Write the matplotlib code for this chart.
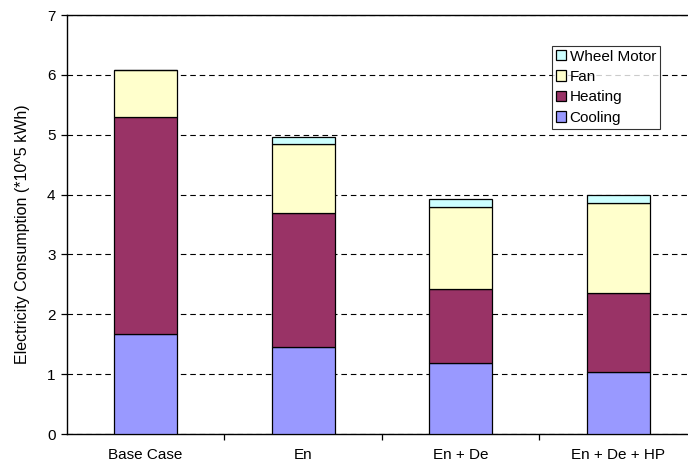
import matplotlib
matplotlib.use("Agg")
import matplotlib.pyplot as plt
import numpy as np

plt.rcParams['font.family'] = ['Liberation Sans', 'DejaVu Sans']

categories = ["Base Case", "En", "En + De", "En + De + HP"]
cooling = [1.666, 1.453, 1.186, 1.04]
heating = [3.624, 2.237, 1.244, 1.315]
fan = [0.785, 1.15, 1.36, 1.509]
wheel_motor = [0.0, 0.13, 0.13, 0.126]

series = [("Cooling", cooling, "#9999FF"),
          ("Heating", heating, "#993366"),
          ("Fan", fan, "#FFFFCC"),
          ("Wheel Motor", wheel_motor, "#CCFFFF")]

fig = plt.figure(figsize=(6.88, 4.69), dpi=100)
# axes from x=66.7 to ~697, y from 15 to 434 (pixels)
ax = fig.add_axes([66.7/688, (469-434)/469, (697-66.7)/688, (434-15)/469])

x = np.arange(len(categories))
bottom = np.zeros(len(categories))
handles = []
for name, vals, col in series:
    h = ax.bar(x, vals, width=0.4, bottom=bottom, color=col,
               edgecolor="black", linewidth=0.9, label=name, zorder=3)
    handles.append(h)
    bottom = bottom + np.array(vals)

ax.set_xlim(-0.5, len(categories) - 0.5)
ax.set_ylim(0, 7)
ax.set_yticks(range(0, 8))
ax.yaxis.grid(True, linestyle=(0, (5, 3.5)), color="black", linewidth=0.8, zorder=0)
ax.set_axisbelow(True)

ax.set_xticks(x)
ax.set_xticklabels(categories, fontsize=11)
ax.set_xticks(np.arange(0.5, len(categories) - 0.5, 1), minor=True)
ax.tick_params(axis="x", which="major", length=0, pad=10)
ax.tick_params(axis="x", which="minor", length=4, width=0.9, direction="out")
ax.tick_params(axis="y", length=4, width=0.9, direction="out", labelsize=11, pad=4)

for s in ["top", "right"]:
    ax.spines[s].set_visible(False)
ax.spines["left"].set_linewidth(1.0)
ax.spines["bottom"].set_linewidth(1.0)
ax.axhline(7, color="black", linewidth=1.0, clip_on=False, zorder=1)

ax.set_ylabel("Electricity Consumption (*10^5 kWh)", fontsize=11.5)
ax.yaxis.set_label_coords(-37/630.3, (434-234)/419)

leg = ax.legend(handles[::-1], [s[0] for s in series][::-1],
                loc="upper left", bbox_to_anchor=((552-66.7)/(697-66.7), (434-45.7)/419),
                fontsize=11, frameon=True, fancybox=False, edgecolor="black",
                handlelength=0.65, handleheight=0.65, handletextpad=0.25,
                labelspacing=0.42, borderpad=0.25, borderaxespad=0)
leg.get_frame().set_linewidth(0.8)

fig.savefig("out.png", dpi=100)
